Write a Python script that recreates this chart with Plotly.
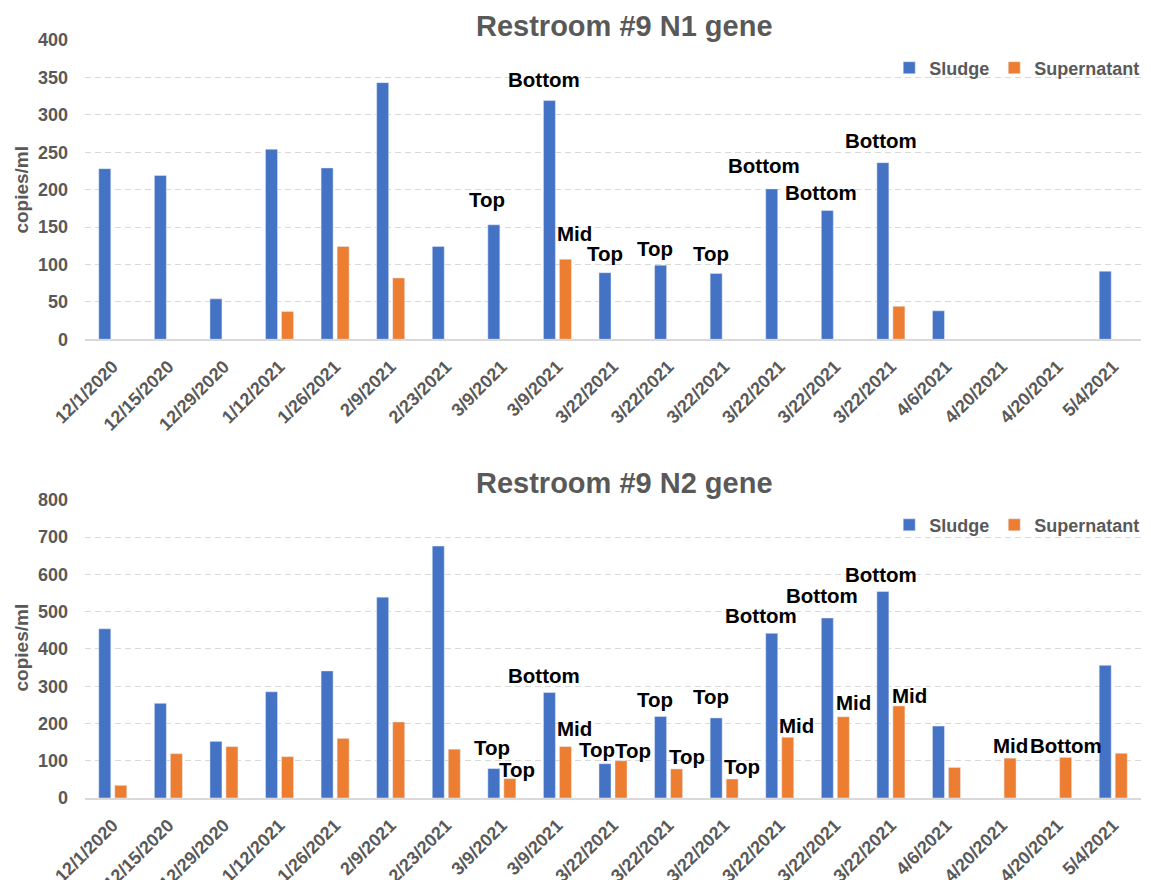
import plotly.graph_objects as go

# Sampling dates (repeated dates are separate samples)
dates = ["12/1/2020", "12/15/2020", "12/29/2020", "1/12/2021", "1/26/2021",
         "2/9/2021", "2/23/2021", "3/9/2021", "3/9/2021", "3/22/2021",
         "3/22/2021", "3/22/2021", "3/22/2021", "3/22/2021", "3/22/2021",
         "4/6/2021", "4/20/2021", "4/20/2021", "5/4/2021"]

# N1 gene, copies/ml
n1_sludge = [228, 219, 54, 254, 229, 343, 124, 153, 319, 89, 99, 88,
             201, 172, 236, 38, None, None, 91]
n1_super = [None, None, None, 37, 124, 82, None, None, 107, None, None, None,
            None, None, 44, None, None, None, None]

# N2 gene, copies/ml
n2_sludge = [454, 254, 152, 285, 341, 539, 676, 79, 283, 92, 219, 215,
             442, 483, 554, 193, None, None, 356]
n2_super = [34, 119, 138, 111, 160, 204, 131, 52, 138, 100, 78, 51,
            163, 218, 247, 82, 107, 109, 120]

# Sampling depth labels (index -> label)
n1_sludge_depth = {7: "Top", 8: "Bottom", 9: "Top", 10: "Top", 11: "Top",
                   12: "Bottom", 13: "Bottom", 14: "Bottom"}
n1_super_depth = {8: "Mid"}
n2_sludge_depth = {7: "Top", 8: "Bottom", 9: "Top", 10: "Top", 11: "Top",
                   12: "Bottom", 13: "Bottom", 14: "Bottom"}
n2_super_depth = {7: "Top", 8: "Mid", 9: "Top", 10: "Top", 11: "Top",
                  12: "Mid", 13: "Mid", 14: "Mid", 16: "Mid", 17: "Bottom"}

# Label nudges in pixels (dx from category centre, dy above bar top)
n1_sludge_nudge = {7: (-15, 25), 8: (-13, 21), 9: (-8, 19), 10: (-14, 17),
                   11: (-13, 20), 12: (-16, 23), 13: (-14, 18), 14: (-10, 22)}
n1_super_nudge = {8: (17, 26)}
n2_sludge_nudge = {7: (-10, 21), 8: (-13, 17), 9: (-16, 14), 10: (-14, 17),
                   11: (-13, 21), 12: (-19, 18), 13: (-13, 23), 14: (-10, 17)}
n2_super_nudge = {7: (15, 9), 8: (17, 18), 9: (20, 10), 10: (18, 12),
                  11: (18, 12), 12: (17, 12), 13: (18, 14), 14: (19, 10),
                  16: (8, 13), 17: (8, 12)}

BLUE = "#4472C4"
ORANGE = "#ED7D31"
GREY = "#595959"
GRID = "#D9D9D9"
FONT = "Liberation Sans, Arial, sans-serif"

idx = list(range(len(dates)))

fig = go.Figure()
fig.add_trace(go.Bar(x=idx, y=n1_sludge, name="Sludge", marker_color=BLUE,
                     xaxis="x", yaxis="y", legend="legend"))
fig.add_trace(go.Bar(x=idx, y=n1_super, name="Supernatant", marker_color=ORANGE,
                     xaxis="x", yaxis="y", legend="legend"))
fig.add_trace(go.Bar(x=idx, y=n2_sludge, name="Sludge", marker_color=BLUE,
                     xaxis="x2", yaxis="y2", legend="legend2"))
fig.add_trace(go.Bar(x=idx, y=n2_super, name="Supernatant", marker_color=ORANGE,
                     xaxis="x2", yaxis="y2", legend="legend2"))

annotations = []


def depth_labels(values, depth, nudge, xref, yref):
    for i, text in depth.items():
        dx, dy = nudge[i]
        annotations.append(dict(
            x=i, y=values[i], xref=xref, yref=yref, text=text,
            showarrow=False, xshift=dx, yshift=dy, yanchor="middle",
            font=dict(family=FONT, size=20.5, color="#000000", weight="bold")))


depth_labels(n1_sludge, n1_sludge_depth, n1_sludge_nudge, "x", "y")
depth_labels(n1_super, n1_super_depth, n1_super_nudge, "x", "y")
depth_labels(n2_sludge, n2_sludge_depth, n2_sludge_nudge, "x2", "y2")
depth_labels(n2_super, n2_super_depth, n2_super_nudge, "x2", "y2")

title_font = dict(family=FONT, size=29, color=GREY, weight="bold")
for text, y in [("Restroom #9 N1 gene", 1.0185), ("Restroom #9 N2 gene", 0.416)]:
    annotations.append(dict(x=0.511, y=y, xref="paper", yref="paper", text=text,
                            showarrow=False, xanchor="center", yanchor="middle",
                            font=title_font))

axis_title_font = dict(family=FONT, size=19, color=GREY, weight="bold")
for y in [0.802, 0.198]:
    annotations.append(dict(x=-0.0601, y=y, xref="paper", yref="paper",
                            text="copies/ml", textangle=-90, showarrow=False,
                            xanchor="center", yanchor="middle",
                            font=axis_title_font))

tick_font = dict(family=FONT, size=18, color=GREY, weight="bold")
xtick_font = dict(family=FONT, size=18, color=GREY, weight="bold")

xaxis_common = dict(
    domain=[0, 1], range=[-0.5, len(dates) - 0.5], tickmode="array",
    tickvals=idx, ticktext=dates, tickangle=-45, tickfont=xtick_font,
    showgrid=False, zeroline=False, showline=True, linecolor=GRID,
    linewidth=1.5, ticks="", ticklabelstandoff=8, automargin=False,
    fixedrange=True)
yaxis_common = dict(
    tickfont=tick_font, showgrid=True, gridcolor=GRID, gridwidth=1,
    griddash="6px,4px", zeroline=False, showline=False, ticks="",
    ticklabelstandoff=16, automargin=False, fixedrange=True)

legend_common = dict(orientation="h", xanchor="right", x=1.004,
                     yanchor="middle", bgcolor="rgba(0,0,0,0)",
                     font=dict(family=FONT, size=18, color=GREY, weight="bold"),
                     itemwidth=30, tracegroupgap=0)

fig.update_layout(
    width=1151, height=880,
    margin=dict(l=85, r=10, t=40, b=82, autoexpand=False),
    paper_bgcolor="white", plot_bgcolor="white",
    barmode="group", bargap=0.424, bargroupgap=0.25,
    xaxis=dict(anchor="y", **xaxis_common),
    xaxis2=dict(anchor="y2", **xaxis_common),
    yaxis=dict(anchor="x", domain=[0.6052, 1.0], range=[0, 400], dtick=50,
               **yaxis_common),
    yaxis2=dict(anchor="x2", domain=[0.0, 0.3933], range=[0, 800], dtick=100,
                **yaxis_common),
    legend=dict(y=0.963, **legend_common),
    legend2=dict(y=0.360, **legend_common),
    annotations=annotations,
    showlegend=True,
)

fig.write_html("out.html")
